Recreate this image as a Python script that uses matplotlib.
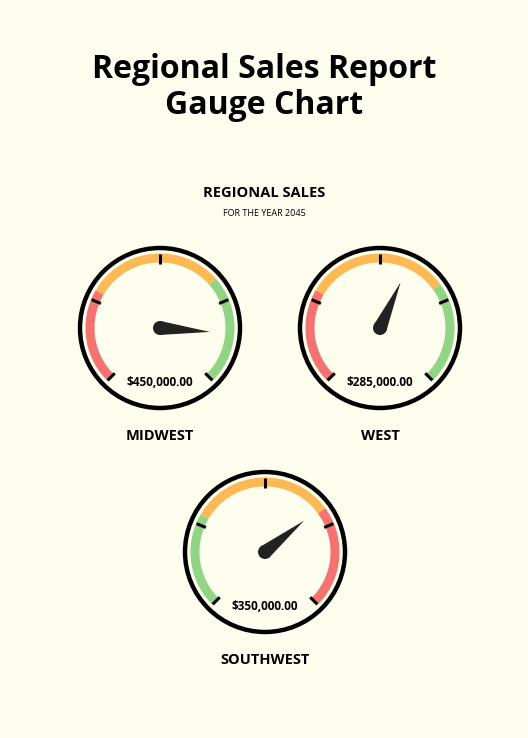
import numpy as np
import matplotlib
matplotlib.use("Agg")
import matplotlib.pyplot as plt
from matplotlib.patches import Polygon, Circle

# data
regions = ["MIDWEST", "WEST", "SOUTHWEST"]
values = ["$450,000.00", "$285,000.00", "$350,000.00"]
needle_frac = [0.85, 0.59, 0.69]          # position of needle along the 270° dial
band_colors = [["#F87171", "#FDB954", "#8FD584"],
               ["#F87171", "#FDB954", "#8FD584"],
               ["#8FD584", "#FDB954", "#F87171"]]
band_edges = [[0.0, 0.28, 0.68, 1.0],
              [0.0, 0.28, 0.70, 1.0],
              [0.0, 0.28, 0.70, 1.0]]
centers = [(160, 328), (380, 328), (265, 552)]

BG = "#FEFEEE"
FONT = ["Open Sans", "DejaVu Sans"]

fig = plt.figure(figsize=(5.28, 7.38), dpi=100, facecolor=BG)
ax = fig.add_axes([0, 0, 1, 1])
ax.set_xlim(0, 528); ax.set_ylim(738, 0); ax.axis("off")
ax.set_facecolor(BG)


def ang(f):
    return np.deg2rad(225 - 270 * f)


def pt(cx, cy, r, a):
    return cx + r * np.cos(a), cy - r * np.sin(a)


for (cx, cy), name, val, nf, cols, edges in zip(centers, regions, values,
                                                 needle_frac, band_colors, band_edges):
    ax.add_patch(Circle((cx, cy), 80, fill=False, ec="black", lw=3.2, zorder=3))
    for c, f0, f1 in zip(cols, edges[:-1], edges[1:]):
        a = np.linspace(ang(f0), ang(f1), 80)
        x, y = pt(cx, cy, 70, a)
        ax.plot(x, y, color=c, lw=6.5, solid_capstyle="butt", zorder=2)
    for f in np.linspace(0, 1, 5):
        a = ang(f)
        x0, y0 = pt(cx, cy, 64, a)
        x1, y1 = pt(cx, cy, 74, a)
        ax.plot([x0, x1], [y0, y1], color="black", lw=2.2, solid_capstyle="butt", zorder=4)
    # needle
    a = ang(nf)
    tip = pt(cx, cy, 50, a)
    l = pt(cx, cy, 7, a + np.pi / 2)
    r = pt(cx, cy, 7, a - np.pi / 2)
    ax.add_patch(Polygon([l, tip, r], closed=True, fc="#222222", ec="none", zorder=5))
    ax.add_patch(Circle((cx, cy), 7, fc="#222222", ec="none", zorder=5))
    ax.text(cx, cy + 54, val, ha="center", va="center", fontsize=8.5,
            fontweight="bold", family=FONT, zorder=6)
    ax.text(cx, cy + 108, name, ha="center", va="center", fontsize=10.5,
            fontweight="bold", family=FONT)

ax.text(264, 70, "Regional Sales Report", ha="center", va="center",
        fontsize=23, fontweight="bold", family=FONT)
ax.text(264, 106, "Gauge Chart", ha="center", va="center",
        fontsize=23, fontweight="bold", family=FONT)
ax.text(264, 193, "R E G I O N A L   S A L E S".replace(" ", "\u200a") if False else "REGIONAL SALES",
        ha="center", va="center", fontsize=10.5, fontweight="bold", family=FONT)
ax.text(264, 213, "FOR THE YEAR 2045", ha="center", va="center",
        fontsize=6.5, family=FONT)

fig.savefig("out.png", dpi=100, facecolor=BG)
